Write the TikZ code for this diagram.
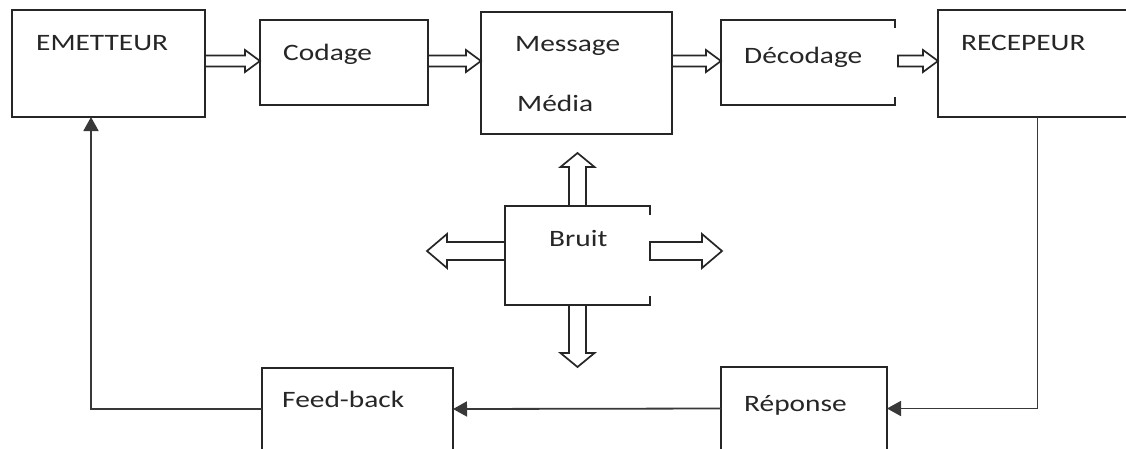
\documentclass[tikz,border=0pt]{standalone}
\usepackage{fontspec}
\setmainfont{Carlito}[FakeStretch=1.25]
\usetikzlibrary{calc,arrows.meta}

\definecolor{ink}{HTML}{262626}
\definecolor{wire}{HTML}{383838}

\tikzset{
  % hollow block arrow drawn as an outline between two points
  hollow shaft/.store in=\hshaft, hollow head/.store in=\hhead, hollow tip/.store in=\htip,
  hollow shaft=5.5, hollow head=11, hollow tip=15,
  hollow/.style={draw=ink, line width=1.7pt, line join=miter, to path={
    let \p1=(\tikztostart), \p2=(\tikztotarget),
        \n1={atan2(\y2-\y1,\x2-\x1)} in
    ($(\p1)+(\n1+90:\hshaft pt)$)
    -- ($(\p2)+(\n1+180:\htip pt)+(\n1+90:\hshaft pt)$)
    -- ($(\p2)+(\n1+180:\htip pt)+(\n1+90:\hhead pt)$)
    -- (\p2)
    -- ($(\p2)+(\n1+180:\htip pt)+(\n1-90:\hhead pt)$)
    -- ($(\p2)+(\n1+180:\htip pt)+(\n1-90:\hshaft pt)$)
    -- ($(\p1)+(\n1-90:\hshaft pt)$) -- cycle
  }},
  big/.style={hollow shaft=9, hollow head=17, hollow tip=20},
  bigv/.style={hollow shaft=8.5, hollow head=17, hollow tip=14},
  box/.style={draw=ink, line width=2.1pt, inner sep=0pt, outer sep=0pt},
  openbox/.style={inner sep=0pt, outer sep=0pt},
  edge/.style={draw=ink, line width=2.1pt},
  link/.style={draw=wire, line width=1.8pt, -{Triangle[length=14pt,width=15pt]}},
  lbl/.style={inner sep=0pt, anchor=base west, text=ink,
              font=\fontsize{23.5}{28}\selectfont},
}

\begin{document}
\begin{tikzpicture}[x=1pt, y=-1pt]
  \useasboundingbox (0,0) rectangle (1126,448);
  \fill[white] (0,0) rectangle (1126,448);
  \clip (0,0) rectangle (1126,448);

  % top row
  \node[box, minimum width=193pt, minimum height=107pt] (em)  at (108.5,63.5) {};
  \node[box, minimum width=168pt, minimum height=85pt]  (cod) at (344,62.5) {};
  \node[box, minimum width=191pt, minimum height=122pt] (msg) at (576.5,73) {};
  \node[openbox, minimum width=174pt, minimum height=85pt] (dec) at (808,62.5) {};
  \node[box, minimum width=199pt, minimum height=107pt] (rec) at (1037.5,63.5) {};

  % noise source
  \node[openbox, minimum width=145pt, minimum height=99pt] (bruit) at (577.5,255.5) {};

  % bottom row
  \node[box, minimum width=191pt, minimum height=82pt] (fb)  at (357.5,409) {};
  \node[box, minimum width=166pt, minimum height=83pt] (rep) at (804,408.5) {};

  % boxes whose right side is only partly drawn
  \draw[edge] ([yshift=-8pt]dec.north east) -- (dec.north east) -- (dec.north west)
              -- (dec.south west) -- (dec.south east) -- ([yshift=8pt]dec.south east);
  \draw[edge] ([yshift=-9pt]bruit.north east) -- (bruit.north east) -- (bruit.north west)
              -- (bruit.south west) -- (bruit.south east) -- ([yshift=9pt]bruit.south east);

  % labels
  \node[lbl] (em-t)  at (36,50)   {EMETTEUR};
  \node[lbl] (cod-t) at (283,60)  {Codage};
  \node[lbl] (msg-t) at (515,51)  {Message};
  \node[lbl] (med-t) at (517,111) {Média};
  \node[lbl] (dec-t) at (744,63)  {Décodage};
  \node[lbl] (rec-t) at (961,50)  {RECEPEUR};
  \node[lbl] (br-t)  at (549,246) {Bruit};
  \node[lbl] (fb-t)  at (282,407) {Feed-back};
  \node[lbl] (rep-t) at (744,411) {Réponse};

  % message chain
  \coordinate (row) at (0,61);
  \draw[hollow] (em.east |- row) to (cod.west |- row);
  \draw[hollow] (cod.east |- row) to (msg.west |- row);
  \draw[hollow] (msg.east |- row) to (dec.west |- row);
  \draw[hollow] ([xshift=3pt]dec.east |- row) to (rec.west |- row);

  % noise spreading out
  \coordinate (nu) at (577.5,153);
  \coordinate (nd) at (577.5,367);
  \coordinate (nl) at (427,251);
  \coordinate (nr) at (722,251);
  \draw[hollow, bigv] (bruit.north) to (nu);
  \draw[hollow, bigv] (bruit.south) to (nd);
  \draw[hollow, big] (bruit.west |- nl) to (nl);
  \draw[hollow, big] (bruit.east |- nr) to (nr);

  % return loop
  \draw[link] (rec.south) |- (rep.east);
  \draw[link] (rep.west) -- (fb.east);
  \draw[link] (fb.west) -| ([xshift=-17.5pt]em.south);
\end{tikzpicture}
\end{document}
